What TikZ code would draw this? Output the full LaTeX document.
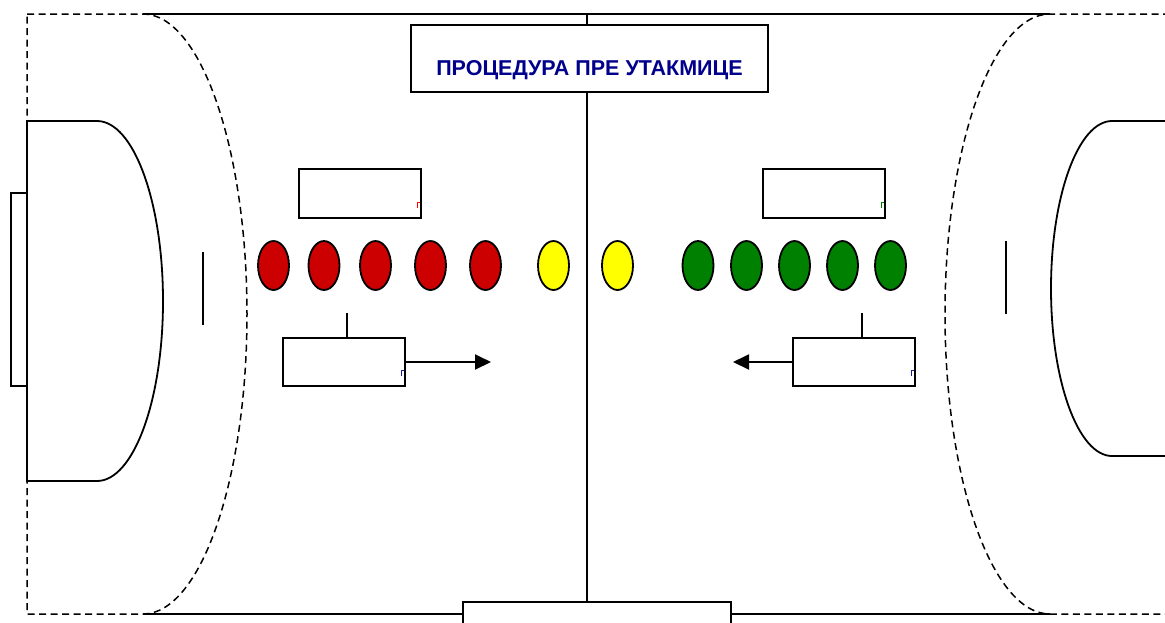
\documentclass[tikz,border=0pt]{standalone}
\usepackage{fontspec}
\setmainfont{Liberation Sans}
\usepackage{xcolor}
\usepackage{tikz}
\usetikzlibrary{shapes.geometric}
\usetikzlibrary{arrows.meta,arrows}
\definecolor{teamred}{RGB}{204,0,0}
\definecolor{teamgreen}{RGB}{0,128,0}
\definecolor{refyellow}{RGB}{255,255,0}
\definecolor{titleblue}{RGB}{0,0,140}
\definecolor{markblue}{RGB}{30,30,150}

\begin{document}
\begin{tikzpicture}[x=1pt,y=-1pt,
    courtline/.style={line width=1.8pt},
    freethrow/.style={line width=1.5pt, dash pattern=on 7pt off 4.5pt},
    namebox/.style={draw, line width=1.9pt, fill=white, inner sep=0pt,
        minimum width=122pt, minimum height=49pt},
    player/.style={ellipse, draw, line width=1.8pt, inner sep=0pt,
        minimum width=31pt, minimum height=49pt},
    tick/.style={line width=1.8pt, line cap=butt},
]
\clip (0,0) rectangle (1165,622);
\fill[white] (0,0) rectangle (1165,622);

% court, left half
\draw[freethrow] (27,14) -- (143,14)
    arc[start angle=-90, end angle=90, x radius=104, y radius=300]
    -- (27,614) -- cycle;
\draw[courtline] (27,121) -- (97,121)
    arc[start angle=-90, end angle=90, x radius=66, y radius=180]
    -- (27,481) -- cycle;
\draw[courtline] (11,193) rectangle (27,386);
\draw[courtline] (203,252) -- (203,325);

% court, right half
\draw[freethrow] (1170,14) -- (1050,14)
    arc[start angle=-90, end angle=-270, x radius=105, y radius=300]
    -- (1170,614);
\draw[courtline] (1170,121) -- (1112,121)
    arc[start angle=-90, end angle=-270, x radius=61, y radius=167.5]
    -- (1170,456);
\draw[courtline] (1006,241) -- (1006,314);

% side lines and middle line
\draw[courtline] (143,14) -- (1050,14);
\draw[courtline] (143,614) -- (1050,614);
\coordinate (midtop) at (587,14);
\node[namebox, minimum width=268pt, minimum height=40pt] (table) at (597,622) {};
\draw[courtline] (midtop) -- (midtop |- table.north);

\node[namebox, minimum width=357pt, minimum height=67pt,
      text height=50.7pt, text depth=16.3pt,
      font=\fontsize{21.5}{24}\selectfont\bfseries, text=titleblue]
    (title) at (589.5,58.5) {ПРОЦЕДУРА ПРЕ УТАКМИЦЕ};

% players and referees
\foreach \px [count=\i] in {273.5,324,375.5,430.5,485.5}
    \node[player, fill=teamred] (red\i) at (\px,265.5) {};
\foreach \px [count=\i] in {553.5,617.5}
    \node[player, fill=refyellow] (ref\i) at (\px,265.5) {};
\foreach \px [count=\i] in {698,746.5,794.5,842.5,890.5}
    \node[player, fill=teamgreen] (green\i) at (\px,265.5) {};

% boxes of team A
\node[namebox] (upperA) at (360,193.5) {};
\node[namebox, minimum height=48pt] (lowerA) at (344,362) {};
\coordinate (stemA) at (347,313);
\coordinate (goA) at (491,362);
\draw[tick] (stemA) -- (stemA |- lowerA.north);
\draw[line width=1.9pt, -{Triangle[length=16pt,width=15pt]}] (lowerA.east) -- (goA);
\draw[red, line width=1.6pt] (417.5,207.5) -- (417.5,202.5) -- (420,202.5);
\draw[markblue, line width=1.6pt] (401.5,375.5) -- (401.5,370.5) -- (404,370.5);

% boxes of team B
\node[namebox] (upperB) at (824,193.5) {};
\node[namebox, minimum height=48pt] (lowerB) at (854,362) {};
\coordinate (stemB) at (862,313);
\coordinate (goB) at (733,362);
\draw[tick] (stemB) -- (stemB |- lowerB.north);
\draw[line width=1.9pt, -{Triangle[length=16pt,width=15pt]}] (lowerB.west) -- (goB);
\draw[teamgreen, line width=1.6pt] (881.5,207.5) -- (881.5,202.5) -- (884,202.5);
\draw[markblue, line width=1.6pt] (911.5,375.5) -- (911.5,370.5) -- (914,370.5);
\end{tikzpicture}
\end{document}
